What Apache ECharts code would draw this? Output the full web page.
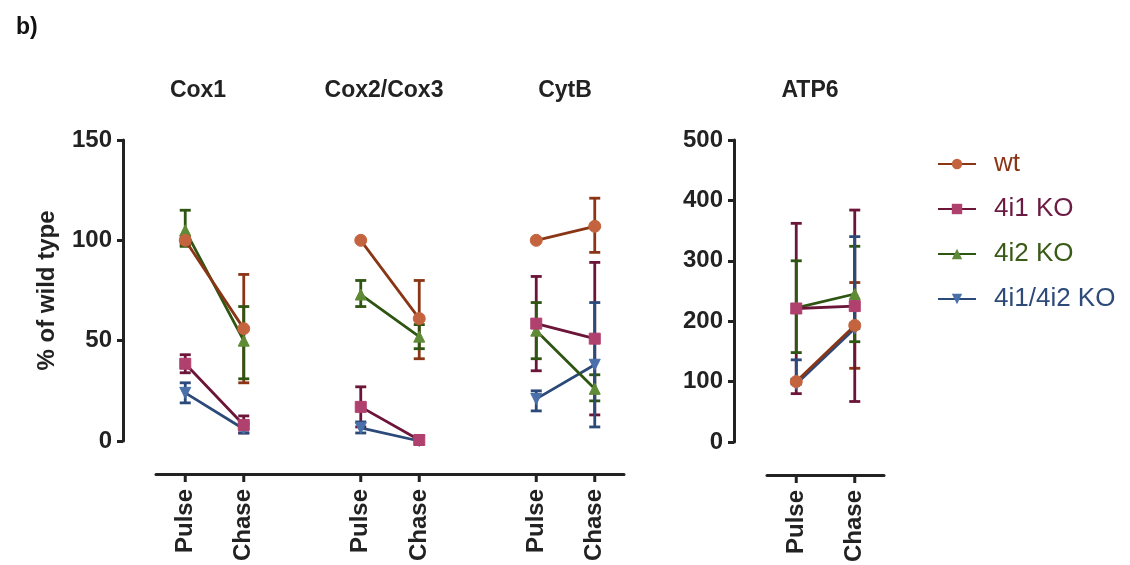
<!DOCTYPE html>
<html lang="en">
<head>
    <meta charset="UTF-8">
    <title>Pulse chase</title>
    <script src="https://cdn.jsdelivr.net/npm/echarts@6/dist/echarts.min.js"></script>
</head>
<body style="margin:0;background:#fff;">
    <div id="app" style="width:1130px;height:565px;"></div>
    <script>
        // left panel: Cox1 | Cox2/Cox3 | CytB (empty slot between groups)
        const categories = ['Pulse', 'Chase', '', 'Pulse', 'Chase', '', 'Pulse', 'Chase'];
        const atpCategories = ['Pulse', 'Chase'];
        const groupTitles = ['Cox1', 'Cox2/Cox3', 'CytB', 'ATP6'];
        const seriesNames = ['wt', '4i1 KO', '4i2 KO', '4i1/4i2 KO'];

        const wtMean = [100, 56, null, 100, 61, null, 100, 107];
        const wtLo   = [98, 29, null, 100, 41, null, 100, 94];
        const wtHi   = [102, 83, null, 100, 80, null, 100, 121];

        const ko1Mean = [38.5, 8, null, 17, 0.5, null, 58.5, 51];
        const ko1Lo   = [34, 4, null, 7, 0.5, null, 35, 13];
        const ko1Hi   = [43, 12.5, null, 27, 0.5, null, 82, 89];

        const ko2Mean = [105, 50, null, 73, 52, null, 55, 26];
        const ko2Lo   = [97, 31, null, 67, 46, null, 41, 20];
        const ko2Hi   = [115, 67, null, 80, 58, null, 69, 33];

        const dkoMean = [24, 6, null, 6.5, 0, null, 21, 38];
        const dkoLo   = [19, 4, null, 4, 0, null, 15, 7];
        const dkoHi   = [29, 8, null, 9.5, 0, null, 25, 69];

        // ATP6 panel
        const atpWtMean = [100, 193];
        const atpWtLo   = [97, 122];
        const atpWtHi   = [103, 264];
        const atpKo1Mean = [221, 225];
        const atpKo1Lo   = [80, 67];
        const atpKo1Hi   = [362, 384];
        const atpKo2Mean = [222, 245];
        const atpKo2Lo   = [148, 166];
        const atpKo2Hi   = [300, 324];
        const atpDkoMean = [96, 188];
        const atpDkoLo   = [96, 188];
        const atpDkoHi   = [136, 340];

        const lineColors = ['#8a3616', '#6b1538', '#2f5512', '#2b4a7a'];
        const markColors = ['#c4643f', '#b0406e', '#5f8a36', '#4a70aa'];
        const textColors = ['#8a3616', '#6b1a42', '#3a5a18', '#2e4a78'];
        const symbols = ['circle', 'rect', 'triangle', 'triangle'];
        const rotations = [0, 0, 0, 180];

        const leftData = [[wtMean, wtLo, wtHi], [ko1Mean, ko1Lo, ko1Hi], [ko2Mean, ko2Lo, ko2Hi], [dkoMean, dkoLo, dkoHi]];
        const rightData = [[atpWtMean, atpWtLo, atpWtHi], [atpKo1Mean, atpKo1Lo, atpKo1Hi], [atpKo2Mean, atpKo2Lo, atpKo2Hi], [atpDkoMean, atpDkoLo, atpDkoHi]];

        const axisColor = '#222';
        const font = 'Liberation Sans, Arial';
        const bold = { fontFamily: font, fontWeight: 'bold', fontSize: 24, color: axisColor };
        const axisOffset = 33;
        const tickLen = 8;

        function errorSeries(k, gridIdx, lo, hi) {
            const data = [];
            lo.forEach((v, i) => {
                if (v != null && hi[i] !== v) data.push([i, v, hi[i]]);
            });
            return {
                type: 'custom',
                name: seriesNames[k] + ' err',
                xAxisIndex: gridIdx,
                yAxisIndex: gridIdx,
                z: 2,
                data: data,
                renderItem: function (params, api) {
                    const a = api.coord([api.value(0), api.value(1)]);
                    const b = api.coord([api.value(0), api.value(2)]);
                    const w = 5.5;
                    const style = { stroke: lineColors[k], lineWidth: 2.8 };
                    return {
                        type: 'group',
                        children: [
                            { type: 'line', shape: { x1: a[0], y1: a[1], x2: b[0], y2: b[1] }, style: style },
                            { type: 'line', shape: { x1: a[0] - w, y1: a[1], x2: a[0] + w, y2: a[1] }, style: style },
                            { type: 'line', shape: { x1: b[0] - w, y1: b[1], x2: b[0] + w, y2: b[1] }, style: style }
                        ]
                    };
                }
            };
        }

        // x ticks: thin bars in a strip grid just under the offset axis line
        function tickSeries(axisIdx, data) {
            const idx = [];
            data.forEach((c, i) => { if (c !== '') idx.push([i, 1]); });
            return {
                type: 'bar',
                xAxisIndex: axisIdx,
                yAxisIndex: axisIdx,
                silent: true,
                barWidth: 3,
                itemStyle: { color: axisColor },
                data: idx
            };
        }

        function lineSeries(k, gridIdx, mean) {
            return {
                type: 'line',
                name: seriesNames[k],
                xAxisIndex: gridIdx,
                yAxisIndex: gridIdx,
                data: mean.map((v, i) => [i, v == null ? '-' : v]),
                z: 3 + (3 - k),
                connectNulls: false,
                symbol: symbols[k],
                symbolRotate: rotations[k],
                symbolSize: k === 0 ? 12 : 11,
                lineStyle: { color: lineColors[k], width: 2.8 },
                itemStyle: { color: markColors[k], borderColor: markColors[k] },
                emphasis: { disabled: true }
            };
        }

        const series = [];
        for (let k = 0; k < 4; k++) {
            series.push(lineSeries(k, 0, leftData[k][0]));
            series.push(errorSeries(k, 0, leftData[k][1], leftData[k][2]));
            series.push(lineSeries(k, 1, rightData[k][0]));
            series.push(errorSeries(k, 1, rightData[k][1], rightData[k][2]));
        }
        series.push(tickSeries(2, categories));
        series.push(tickSeries(3, atpCategories));

        const titleX = [193, 379, 560, 805];
        const titles = [{ text: 'b)', left: 11, top: 11, textStyle: { fontFamily: font, fontWeight: 'bold', fontSize: 23, color: '#111' } }];
        groupTitles.forEach((t, i) => {
            titles.push({
                text: t, left: titleX[i], top: 74, textAlign: 'center',
                textStyle: { fontFamily: font, fontWeight: 'bold', fontSize: 23, color: axisColor }
            });
        });

        function yAxis(gridIdx, max, interval, name) {
            return {
                type: 'value', gridIndex: gridIdx, min: 0, max: max, interval: interval,
                offset: axisOffset,
                name: name, nameLocation: 'middle', nameRotate: 90, nameGap: 64,
                nameTextStyle: bold,
                splitLine: { show: false },
                axisLine: { show: true, onZero: false, lineStyle: { color: axisColor, width: 3 } },
                axisTick: { show: true, length: 6, lineStyle: { color: axisColor, width: 3 } },
                axisLabel: Object.assign({ margin: 11 }, bold)
            };
        }

        // x as a value axis over category indices so empty slots get no label
        function xAxis(gridIdx, data) {
            const idx = [];
            data.forEach((c, i) => { if (c !== '') idx.push(i); });
            return {
                type: 'value', gridIndex: gridIdx, min: -0.5, max: data.length - 0.5,
                offset: axisOffset,
                splitLine: { show: false },
                axisLine: { show: true, onZero: false, lineStyle: { color: axisColor, width: 3 } },
                axisTick: { show: false },
                axisLabel: Object.assign({
                    rotate: 90, margin: 15, customValues: idx,
                    formatter: (v) => data[Math.round(v)]
                }, bold)
            };
        }

        // hidden axes for the tick strips
        function stripX(gridIdx, data) {
            return { type: 'value', gridIndex: gridIdx, min: -0.5, max: data.length - 0.5, show: false };
        }
        function stripY(gridIdx) {
            return { type: 'value', gridIndex: gridIdx, min: 0, max: 1, show: false, inverse: true };
        }

        const myChart = echarts.init(document.getElementById('app'));
        myChart.setOption({
            animation: false,
            title: titles,
            legend: {
                left: 932, top: 146, orient: 'vertical', itemGap: 19,
                itemWidth: 38, itemHeight: 13,
                textStyle: { fontFamily: font, fontSize: 26, padding: [0, 0, 0, 13] },
                data: seriesNames.map((n, i) => ({ name: n, textStyle: { color: textColors[i] } }))
            },
            grid: [
                { left: 156, top: 140, width: 468, height: 301 },
                { left: 767, top: 140, width: 117, height: 302 },
                { left: 156, top: 141 + 301 + axisOffset - 1, width: 468, height: tickLen },
                { left: 767, top: 142 + 302 + axisOffset - 2, width: 117, height: tickLen }
            ],
            xAxis: [xAxis(0, categories), xAxis(1, atpCategories), stripX(2, categories), stripX(3, atpCategories)],
            yAxis: [yAxis(0, 150, 50, '% of wild type'), yAxis(1, 500, 100, ''), stripY(2), stripY(3)],
            series: series
        });
    </script>
</body>
</html>
